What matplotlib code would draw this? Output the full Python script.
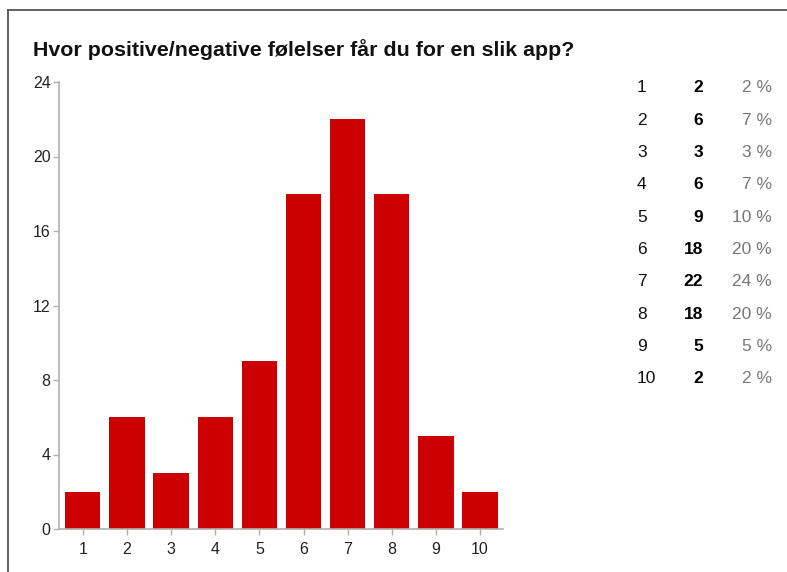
import matplotlib
matplotlib.use("Agg")
import matplotlib.pyplot as plt
from matplotlib.lines import Line2D

plt.rcParams['font.family'] = ['Liberation Sans', 'DejaVu Sans']

categories = ["1", "2", "3", "4", "5", "6", "7", "8", "9", "10"]
counts = [2, 6, 3, 6, 9, 18, 22, 18, 5, 2]
percents = ["2 %", "7 %", "3 %", "7 %", "10 %", "20 %", "24 %", "20 %", "5 %", "2 %"]
yticks = [0, 4, 8, 12, 16, 20, 24]
title = "Hvor positive/negative følelser får du for en slik app?"

W, H = 787, 572
fig = plt.figure(figsize=(W / 100, H / 100), dpi=100)

# axes placement in pixels
left, right, top, bottom = 59, 503, 82, 529
ax = fig.add_axes([left / W, 1 - bottom / H, (right - left) / W, (bottom - top) / H])

x = list(range(1, len(categories) + 1))
ax.bar(x, counts, width=0.8, color="#cc0000", zorder=2)
ax.set_xlim(0.46, 10.52)
ax.set_ylim(0, 24)
ax.set_xticks(x)
ax.set_xticklabels(categories)
ax.set_yticks(yticks)
ax.set_yticklabels([str(v) for v in yticks])
for s in ["top", "right"]:
    ax.spines[s].set_visible(False)
for s in ["left", "bottom"]:
    ax.spines[s].set_color("#b0b0b0")
    ax.spines[s].set_linewidth(1.2)
ax.tick_params(axis="both", colors="#b0b0b0", length=4, width=1, labelsize=11.5,
               labelcolor="#222222")
ax.tick_params(axis="x", pad=5)
ax.tick_params(axis="y", pad=2)

# frame lines
fig.add_artist(Line2D([8 / W, 8 / W], [0, 1 - 10 / H], color="#555555", lw=1.3))
fig.add_artist(Line2D([8 / W, 1], [1 - 10 / H, 1 - 10 / H], color="#555555", lw=1.3))

fig.text(33 / W, 1 - 50 / H, title, fontsize=15.4, fontweight="bold",
         va="center", ha="left", color="#111111")

# table
row_y0, row_dy = 88, 32.3
for i, (c, n, p) in enumerate(zip(categories, counts, percents)):
    yy = 1 - (row_y0 + i * row_dy) / H
    fig.text(637 / W, yy, c, fontsize=12.5, ha="left", va="center", color="#111111")
    fig.text(703 / W, yy, str(n), fontsize=12.5, ha="right", va="center",
             fontweight="bold", color="#000000")
    fig.text(772 / W, yy, p, fontsize=12.5, ha="right", va="center", color="#777777")

fig.savefig("out.png", dpi=100)
